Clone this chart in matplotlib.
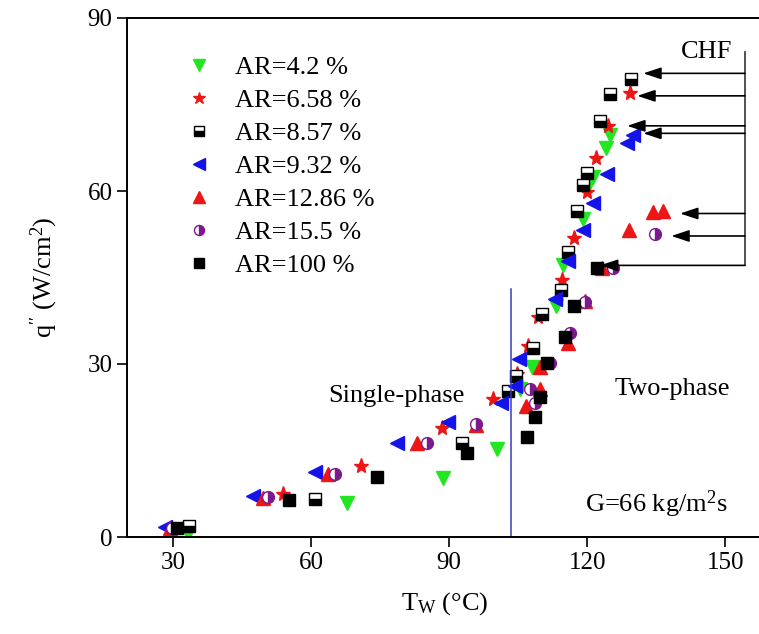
import matplotlib
matplotlib.use("Agg")
import matplotlib.pyplot as plt

plt.rcParams["font.family"] = ["Liberation Serif", "DejaVu Serif"]
plt.rcParams["mathtext.fontset"] = "custom"
plt.rcParams["mathtext.rm"] = "Liberation Serif"
plt.rcParams["mathtext.it"] = "Liberation Serif:italic"

# Wall temperature (°C) and heat flux (W/cm^2) for each area ratio
t_42 = [33.2, 67.8, 88.7, 100.5, 105.4, 108.0, 113.3, 114.8, 119.1, 120.4, 121.3, 124.1, 125.0]
q_42 = [0.5, 5.9, 10.2, 15.3, 25.7, 29.4, 40.0, 47.1, 55.2, 61.2, 62.5, 67.4, 69.7]

t_658 = [29.5, 53.9, 70.9, 88.5, 99.6, 104.8, 107.2, 109.3, 114.6, 117.2, 120.0, 122.0, 124.6, 129.3]
q_658 = [1.5, 7.5, 12.3, 18.9, 24.0, 28.3, 33.2, 38.2, 44.5, 51.8, 59.8, 65.7, 71.2, 77.0]

t_857 = [33.5, 60.9, 92.8, 102.8, 104.6, 108.3, 110.2, 114.3, 115.9, 117.8, 119.1, 120.0, 122.8, 125.0, 129.6]
q_857 = [1.9, 6.6, 16.3, 25.4, 28.0, 32.7, 38.7, 42.9, 49.5, 56.5, 61.0, 63.1, 72.1, 76.8, 79.4]

t_932 = [28.3, 47.4, 60.9, 78.7, 89.8, 101.3, 104.3, 105.2, 113.0, 115.9, 119.1, 121.3, 124.3, 128.7, 130.0]
q_932 = [1.7, 7.1, 11.3, 16.3, 20.0, 23.3, 26.2, 30.9, 41.2, 47.8, 53.3, 58.0, 62.9, 68.3, 69.7]

t_1286 = [29.3, 49.6, 63.7, 83.0, 95.9, 106.7, 109.8, 109.8, 115.9, 119.5, 123.3, 129.1, 134.3, 136.5]
q_1286 = [1.5, 6.8, 10.9, 16.3, 19.4, 22.8, 25.7, 29.5, 33.7, 41.0, 46.7, 53.2, 56.3, 56.5]

t_155 = [29.8, 50.7, 65.2, 85.2, 95.9, 107.6, 108.7, 112.0, 116.3, 119.5, 125.7, 134.8]
q_155 = [1.6, 7.0, 10.9, 16.3, 19.6, 25.7, 23.3, 30.2, 35.3, 40.7, 46.6, 52.5]

t_100 = [30.9, 55.2, 74.3, 93.9, 107.0, 108.7, 109.8, 111.3, 115.2, 117.2, 122.2]
q_100 = [1.6, 6.4, 10.4, 14.6, 17.4, 20.8, 24.2, 30.2, 34.7, 40.0, 46.6]

labels = ["AR=4.2 %", "AR=6.58 %", "AR=8.57 %", "AR=9.32 %",
          "AR=12.86 %", "AR=15.5 %", "AR=100 %"]

# CHF markers: heat flux level of each arrow and the temperature of its tip
chf_q = [80.4, 76.5, 71.3, 70.0, 56.1, 52.2, 47.1]
chf_tip = [132.2, 130.9, 128.7, 132.2, 140.2, 138.3, 122.8]
chf_bar_t = 154.3

onb_t = 103.5      # single-/two-phase boundary
onb_top = 43.0

fig = plt.figure(figsize=(7.59, 6.34), dpi=100)
ax = fig.add_axes([127 / 759, 97 / 634, 635 / 759, 519 / 634])

green = "#22e622"
red = "#ee1515"
blue = "#1414e8"
purple = "#7a1a8c"

ax.plot(t_42, q_42, ls="none", marker="v", ms=10, color=green, mec=green, label=labels[0])
ax.plot(t_658, q_658, ls="none", marker="*", ms=11, color=red, mec=red, label=labels[1])
ax.plot(t_857, q_857, ls="none", marker="s", ms=8, fillstyle="bottom",
        mfc="black", mfcalt="white", mec="black", mew=1.0, label=labels[2])
ax.plot(t_932, q_932, ls="none", marker="<", ms=10, color=blue, mec=blue, label=labels[3])
ax.plot(t_1286, q_1286, ls="none", marker="^", ms=10, color=red, mec=red, label=labels[4])
ax.plot(t_155, q_155, ls="none", marker="o", ms=8.5, fillstyle="right",
        mfc=purple, mfcalt="white", mec=purple, mew=1.0, label=labels[5])
ax.plot(t_100, q_100, ls="none", marker="s", ms=8, color="black", label=labels[6])

# phase boundary
ax.plot([onb_t, onb_t], [0, onb_top], color="#3a3ab8", lw=1.1)

# CHF bracket and arrows
ax.plot([chf_bar_t, chf_bar_t], [min(chf_q), max(chf_q) + 3.7], color="#333333", lw=1.2)
for qv, tip in zip(chf_q, chf_tip):
    ax.annotate("", xy=(tip, qv), xytext=(chf_bar_t, qv),
                arrowprops=dict(arrowstyle="-|>,head_length=0.9,head_width=0.3",
                                mutation_scale=12, color="black", lw=1.2,
                                shrinkA=0, shrinkB=0))

ax.text(146.0, 84.1, "CHF", fontsize=19, ha="center", va="center")
ax.text(78.5, 24.5, "Single-phase", fontsize=19, ha="center", va="center")
ax.text(138.5, 25.7, "Two-phase", fontsize=19, ha="center", va="center")
ax.text(135.0, 5.6, "G=66 kg/m$^2$s", fontsize=19, ha="center", va="center")

ax.set_xlim(20, 158)
ax.set_ylim(0, 90)
ax.set_xticks([30, 60, 90, 120, 150])
ax.set_yticks([0, 30, 60, 90])
ax.tick_params(axis="both", labelsize=18, direction="out", length=7, width=1.2)
ax.tick_params(axis="y", which="major", right=True)
for side in ["left", "bottom", "top"]:
    ax.spines[side].set_linewidth(1.4)
ax.spines["right"].set_visible(False)

ax.set_xlabel("T$_\\mathrm{W}$ (°C)", fontsize=19, labelpad=12)
ax.set_ylabel("q$^{\\prime\\prime}$ (W/cm$^2$)", fontsize=19, labelpad=20)

leg = ax.legend(loc="upper left", bbox_to_anchor=(0.072, 0.948), frameon=False,
                fontsize=19, labelspacing=0.36, handletextpad=0.75,
                handlelength=1.2, markerscale=0.85, borderaxespad=0)

fig.savefig("out.png", dpi=100)
